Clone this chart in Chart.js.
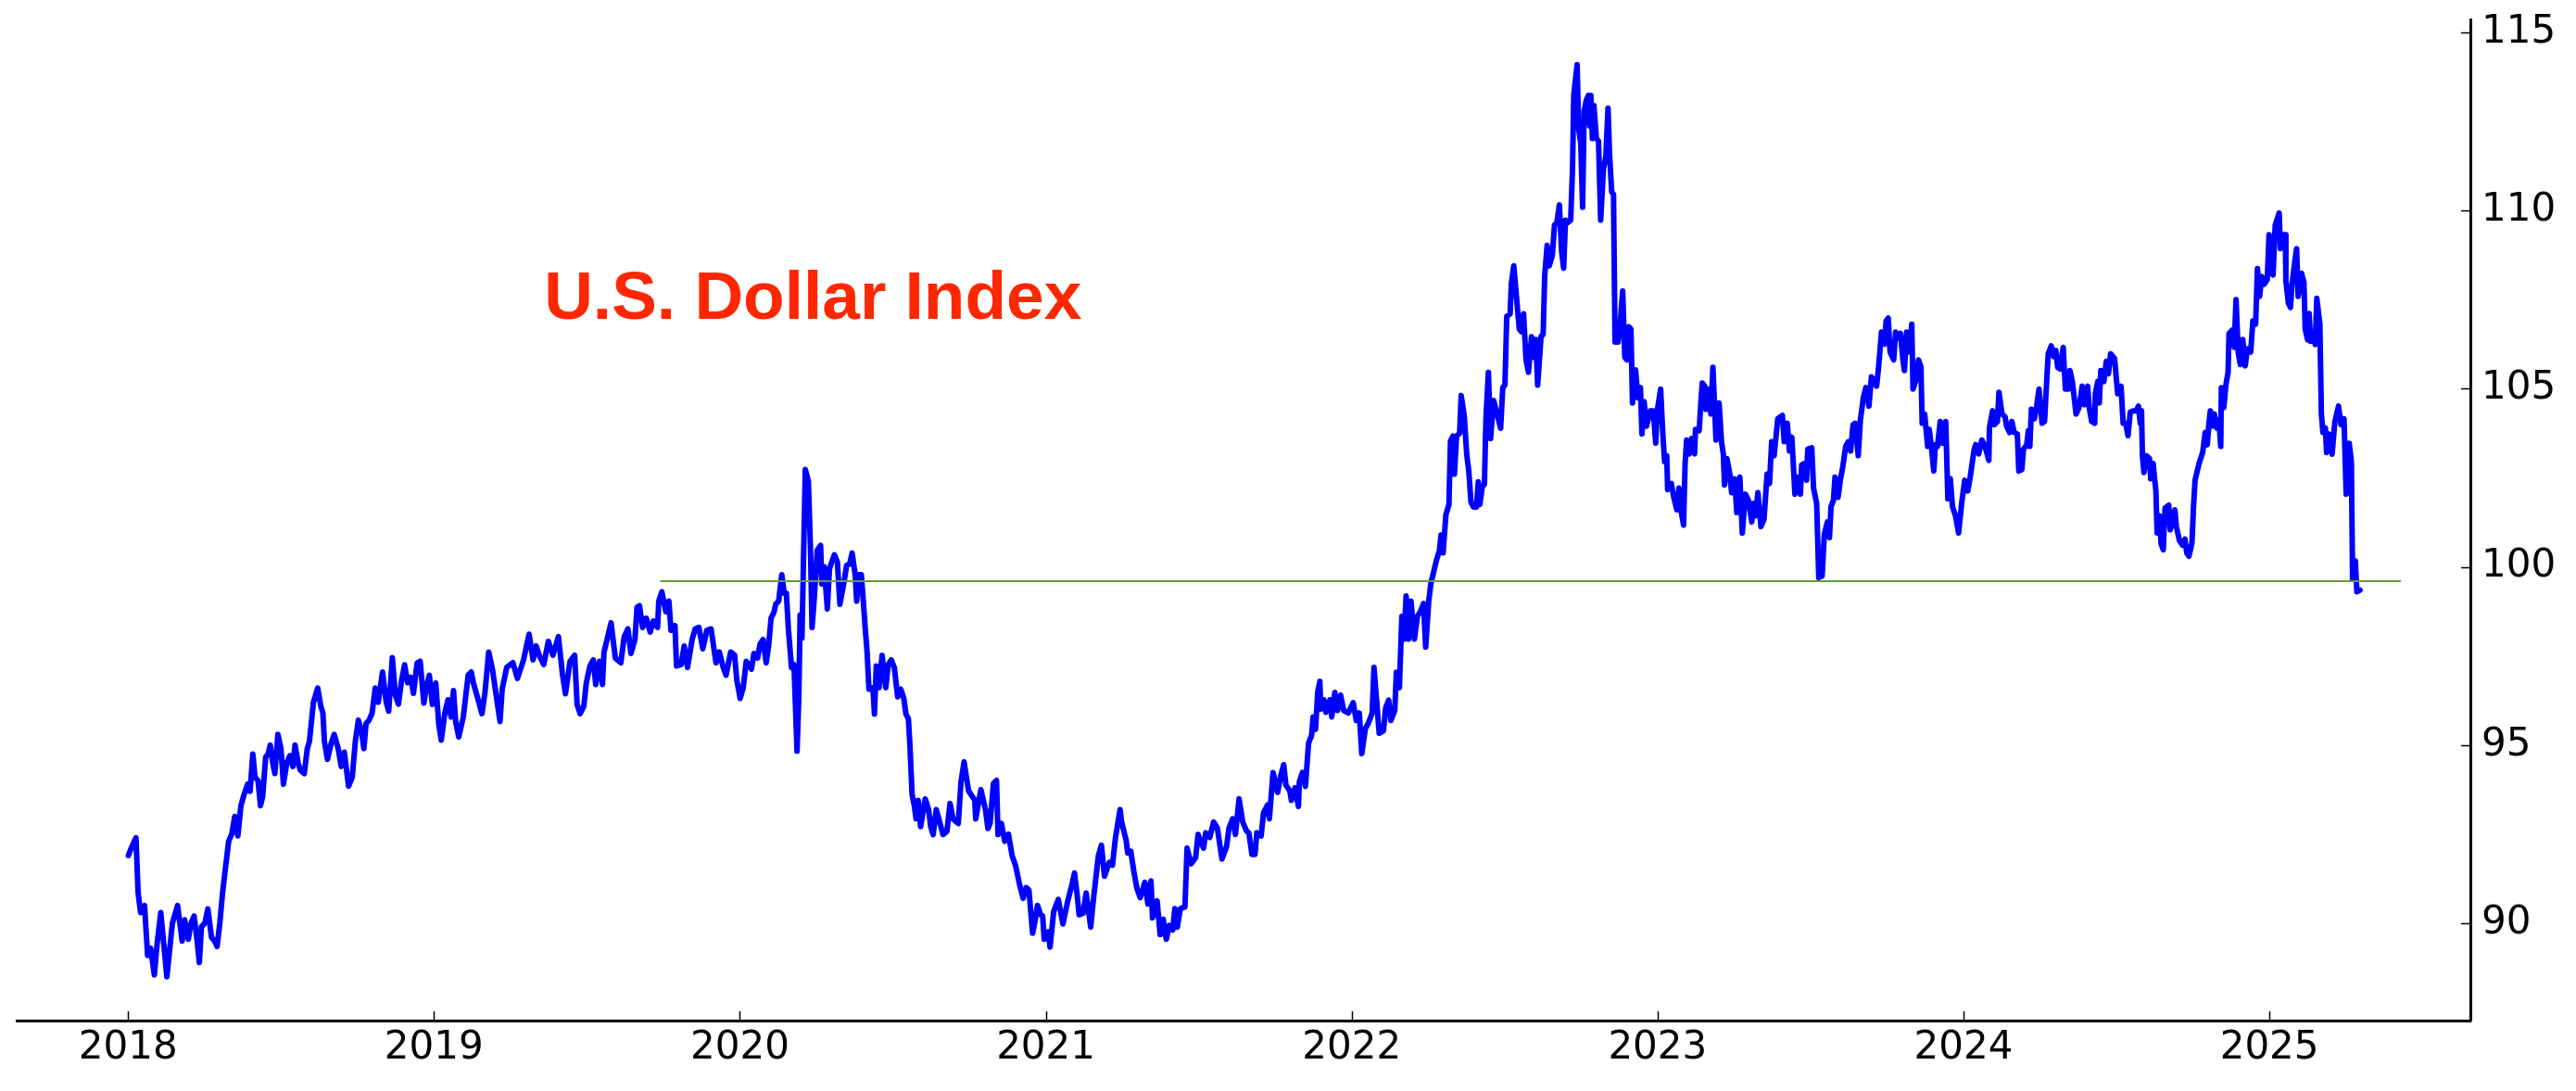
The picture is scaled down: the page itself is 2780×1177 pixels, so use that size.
<!DOCTYPE html>
<html>
<head>
<meta charset="utf-8">
<title>U.S. Dollar Index</title>
<script src="https://cdn.jsdelivr.net/npm/chart.js@4.4.1/dist/chart.umd.min.js"></script>
<style>
  html, body { margin: 0; padding: 0; background: #fff; }
  #wrap { width: 2780px; height: 1177px; }
</style>
</head>
<body>
<div id="wrap"><canvas id="chart" width="2780" height="1177"></canvas></div>
<script>
// DXY readings, [decimal year, index level]
const dxy2018 = [
  [2018.001, 91.9], [2018.010, 92.1], [2018.026, 92.4], [2018.033, 90.85], [2018.041, 90.3],
  [2018.054, 90.5], [2018.064, 89.1], [2018.074, 89.3], [2018.086, 88.55], [2018.096, 89.5],
  [2018.107, 90.3], [2018.127, 88.5], [2018.139, 89.5], [2018.145, 90.0], [2018.162, 90.5],
  [2018.177, 89.5], [2018.185, 90.1], [2018.197, 89.55], [2018.206, 90.0], [2018.216, 90.2],
  [2018.226, 89.5], [2018.233, 88.9], [2018.240, 89.9], [2018.251, 90.0], [2018.261, 90.4],
  [2018.273, 89.6], [2018.283, 89.5], [2018.291, 89.35], [2018.300, 90.0], [2018.309, 90.85],
  [2018.317, 91.45], [2018.329, 92.3], [2018.339, 92.5], [2018.349, 93.0], [2018.359, 92.45],
  [2018.369, 93.3], [2018.379, 93.6], [2018.391, 93.9], [2018.399, 93.7], [2018.408, 94.75],
  [2018.415, 94.1], [2018.425, 94.0], [2018.433, 93.3], [2018.440, 93.55], [2018.450, 94.66],
  [2018.458, 94.75], [2018.465, 95.0], [2018.473, 94.5], [2018.480, 94.2], [2018.490, 95.3],
  [2018.500, 94.9], [2018.508, 93.9], [2018.519, 94.5], [2018.529, 94.7], [2018.539, 94.4],
  [2018.546, 95.0], [2018.556, 94.5], [2018.563, 94.3], [2018.576, 94.2], [2018.586, 94.9],
  [2018.593, 95.1], [2018.606, 96.2], [2018.620, 96.6], [2018.630, 96.1], [2018.637, 95.9],
  [2018.642, 95.1], [2018.652, 94.6], [2018.664, 95.05], [2018.674, 95.3], [2018.687, 94.9],
  [2018.697, 94.4], [2018.707, 94.8], [2018.721, 93.85], [2018.733, 94.1], [2018.743, 95.1],
  [2018.753, 95.7], [2018.763, 95.4], [2018.771, 94.9], [2018.778, 95.6], [2018.788, 95.7],
  [2018.798, 95.9], [2018.808, 96.6], [2018.818, 96.2], [2018.832, 97.05], [2018.844, 96.2],
  [2018.852, 95.95], [2018.864, 97.45], [2018.874, 96.4], [2018.884, 96.15], [2018.894, 96.8],
  [2018.904, 97.25], [2018.914, 96.75], [2018.924, 96.9], [2018.933, 96.45], [2018.945, 97.3],
  [2018.955, 97.35], [2018.967, 96.18], [2018.977, 96.7], [2018.985, 96.96], [2018.995, 96.14]
];

const dxy2019 = [
  [2019.006, 96.74], [2019.016, 95.57], [2019.024, 95.14], [2019.036, 95.92], [2019.046, 96.27],
  [2019.056, 95.79], [2019.064, 96.53], [2019.071, 95.66], [2019.081, 95.23], [2019.096, 95.79],
  [2019.112, 96.96], [2019.122, 97.05], [2019.129, 96.74], [2019.142, 96.35], [2019.157, 95.88],
  [2019.167, 96.48], [2019.179, 97.61], [2019.192, 97.09], [2019.202, 96.48], [2019.216, 95.66],
  [2019.223, 96.57], [2019.238, 97.18], [2019.258, 97.31], [2019.273, 96.87], [2019.293, 97.39],
  [2019.311, 98.11], [2019.324, 97.39], [2019.334, 97.78], [2019.344, 97.52], [2019.359, 97.26],
  [2019.374, 97.91], [2019.389, 97.52], [2019.407, 98.04], [2019.420, 97.0], [2019.430, 96.44],
  [2019.445, 97.35], [2019.460, 97.52], [2019.468, 96.14], [2019.478, 95.88], [2019.490, 96.09],
  [2019.498, 96.74], [2019.510, 97.22], [2019.521, 97.39], [2019.529, 96.7], [2019.541, 97.35],
  [2019.551, 96.7], [2019.556, 97.61], [2019.566, 97.96], [2019.579, 98.43], [2019.593, 97.44],
  [2019.611, 97.31], [2019.622, 98.04], [2019.634, 98.26], [2019.644, 97.57], [2019.657, 97.96],
  [2019.664, 98.87], [2019.672, 98.91], [2019.682, 98.3], [2019.694, 98.56], [2019.707, 98.17],
  [2019.717, 98.48], [2019.731, 98.3], [2019.735, 99.04], [2019.745, 99.3], [2019.758, 98.74],
  [2019.768, 99.04], [2019.775, 98.22], [2019.788, 98.35], [2019.793, 97.22], [2019.808, 97.26],
  [2019.818, 97.78], [2019.829, 97.18], [2019.844, 97.96], [2019.854, 98.26], [2019.866, 98.3],
  [2019.879, 97.7], [2019.892, 98.22], [2019.906, 98.26], [2019.922, 97.31], [2019.933, 97.61],
  [2019.945, 97.2], [2019.955, 96.96], [2019.970, 97.61], [2019.983, 97.52], [2019.990, 96.83]
];

const dxy2020 = [
  [2020.001, 96.31], [2020.011, 96.61], [2020.021, 97.35], [2020.038, 97.13], [2020.046, 97.57],
  [2020.058, 97.44], [2020.066, 97.83], [2020.076, 97.96], [2020.086, 97.31], [2020.094, 97.78],
  [2020.102, 98.56], [2020.112, 98.74], [2020.117, 98.95], [2020.127, 99.04], [2020.137, 99.78],
  [2020.145, 99.26], [2020.152, 99.26], [2020.159, 98.22], [2020.169, 97.17], [2020.177, 97.26],
  [2020.187, 94.83], [2020.193, 96.4], [2020.197, 98.65], [2020.203, 98.0], [2020.214, 102.73],
  [2020.224, 102.4], [2020.231, 100.5], [2020.236, 98.3], [2020.243, 99.08], [2020.253, 100.47],
  [2020.264, 100.6], [2020.268, 99.52], [2020.276, 100.0], [2020.286, 98.82], [2020.293, 99.95],
  [2020.309, 100.34], [2020.319, 100.13], [2020.327, 98.95], [2020.341, 99.6], [2020.349, 100.04],
  [2020.359, 100.08], [2020.367, 100.39], [2020.377, 99.78], [2020.382, 99.04], [2020.389, 99.78],
  [2020.397, 99.78], [2020.404, 99.0], [2020.410, 98.26], [2020.416, 97.61], [2020.422, 96.57],
  [2020.435, 96.61], [2020.440, 95.87], [2020.446, 97.22], [2020.455, 96.61], [2020.465, 97.52],
  [2020.477, 96.61], [2020.485, 97.26], [2020.495, 97.39], [2020.505, 97.17], [2020.516, 96.35],
  [2020.526, 96.57], [2020.536, 96.31], [2020.543, 95.87], [2020.551, 95.74], [2020.556, 95.0],
  [2020.563, 93.62], [2020.571, 93.27], [2020.576, 92.93], [2020.583, 93.45], [2020.591, 92.71],
  [2020.606, 93.49], [2020.617, 93.19], [2020.624, 92.71], [2020.632, 92.49], [2020.642, 93.19],
  [2020.652, 92.88], [2020.664, 92.49], [2020.677, 92.58], [2020.687, 93.36], [2020.697, 92.93],
  [2020.714, 92.8], [2020.723, 93.97], [2020.733, 94.53], [2020.743, 93.97], [2020.748, 93.71],
  [2020.758, 93.58], [2020.768, 93.45], [2020.771, 92.93], [2020.788, 93.75], [2020.803, 93.19],
  [2020.811, 92.66], [2020.818, 92.8], [2020.829, 93.92], [2020.839, 94.01], [2020.844, 92.49],
  [2020.855, 92.8], [2020.866, 92.3], [2020.878, 92.5], [2020.890, 91.9], [2020.902, 91.6],
  [2020.914, 91.1], [2020.926, 90.7], [2020.936, 91.0], [2020.945, 90.93], [2020.957, 89.72],
  [2020.965, 90.07], [2020.973, 90.5], [2020.983, 90.24], [2020.990, 90.2], [2020.995, 89.55]
];

const dxy2021 = [
  [2021.008, 89.76], [2021.014, 89.33], [2021.026, 90.33], [2021.041, 90.67], [2021.056, 89.98],
  [2021.071, 90.59], [2021.086, 91.1], [2021.094, 91.41], [2021.102, 90.85], [2021.109, 90.24],
  [2021.122, 90.28], [2021.132, 90.85], [2021.147, 89.89], [2021.157, 90.76], [2021.172, 91.89],
  [2021.182, 92.19], [2021.192, 91.32], [2021.208, 91.71], [2021.218, 91.63], [2021.228, 92.41],
  [2021.243, 93.19], [2021.248, 92.84], [2021.263, 92.32], [2021.268, 91.97], [2021.278, 92.02],
  [2021.288, 91.45], [2021.298, 90.98], [2021.309, 90.72], [2021.324, 91.15], [2021.334, 90.54],
  [2021.344, 91.19], [2021.349, 90.15], [2021.364, 90.63], [2021.374, 89.68], [2021.384, 90.11],
  [2021.394, 89.55], [2021.404, 89.94], [2021.415, 89.81], [2021.422, 90.41], [2021.430, 89.89],
  [2021.440, 90.41], [2021.455, 90.46], [2021.462, 92.11], [2021.475, 91.67], [2021.490, 91.84],
  [2021.498, 92.49], [2021.505, 92.32], [2021.516, 92.11], [2021.523, 92.54], [2021.536, 92.41],
  [2021.549, 92.84], [2021.561, 92.67], [2021.576, 91.8], [2021.591, 92.15], [2021.599, 92.67],
  [2021.611, 92.93], [2021.620, 92.49], [2021.632, 93.49], [2021.644, 92.84], [2021.657, 92.58],
  [2021.664, 92.54], [2021.674, 91.93], [2021.684, 91.93], [2021.690, 92.54], [2021.704, 92.45],
  [2021.712, 93.1], [2021.725, 93.32], [2021.731, 92.93], [2021.743, 94.23], [2021.758, 93.67],
  [2021.768, 94.14], [2021.778, 94.45], [2021.785, 93.88], [2021.798, 93.71], [2021.803, 93.45],
  [2021.815, 93.8], [2021.826, 93.28], [2021.829, 93.97], [2021.839, 94.23], [2021.849, 93.84],
  [2021.859, 95.05], [2021.869, 95.27], [2021.874, 95.79], [2021.882, 95.44], [2021.889, 96.48],
  [2021.896, 96.79], [2021.899, 96.01], [2021.909, 96.27], [2021.916, 95.92], [2021.929, 96.27],
  [2021.935, 95.79], [2021.945, 96.48], [2021.954, 95.97], [2021.964, 96.4], [2021.974, 95.97],
  [2021.989, 95.9]
];

const dxy2022 = [
  [2022.005, 96.19], [2022.015, 95.69], [2022.025, 95.9], [2022.033, 94.76], [2022.045, 95.47],
  [2022.055, 95.62], [2022.067, 95.9], [2022.073, 97.18], [2022.090, 95.33], [2022.104, 95.4],
  [2022.111, 96.04], [2022.121, 96.26], [2022.128, 95.69], [2022.141, 95.97], [2022.146, 97.04],
  [2022.156, 96.61], [2022.164, 98.61], [2022.171, 97.97], [2022.178, 99.18], [2022.186, 97.97],
  [2022.194, 99.04], [2022.205, 97.97], [2022.215, 98.61], [2022.225, 98.75], [2022.235, 98.97],
  [2022.242, 97.75], [2022.252, 99.04], [2022.259, 99.54], [2022.265, 99.75], [2022.277, 100.18],
  [2022.287, 100.46], [2022.292, 100.89], [2022.299, 100.39], [2022.308, 101.46], [2022.318, 101.75],
  [2022.323, 103.53], [2022.331, 103.67], [2022.336, 102.6], [2022.343, 103.67], [2022.353, 103.75],
  [2022.358, 104.81], [2022.368, 104.24], [2022.376, 103.17], [2022.383, 102.67], [2022.390, 101.82],
  [2022.398, 101.68], [2022.408, 101.68], [2022.414, 102.39], [2022.419, 101.75], [2022.427, 102.25],
  [2022.434, 102.32], [2022.439, 104.17], [2022.447, 105.46], [2022.454, 103.6], [2022.464, 104.67],
  [2022.477, 104.24], [2022.487, 103.89], [2022.494, 105.03], [2022.501, 105.1], [2022.507, 107.03],
  [2022.518, 107.1], [2022.522, 107.95], [2022.530, 108.45], [2022.540, 107.45], [2022.548, 106.67],
  [2022.555, 106.6], [2022.562, 107.1], [2022.570, 105.81], [2022.578, 105.46], [2022.588, 106.46],
  [2022.595, 105.88], [2022.602, 106.38], [2022.608, 105.1], [2022.619, 106.46], [2022.626, 106.53],
  [2022.631, 108.17], [2022.639, 109.02], [2022.646, 108.45], [2022.656, 108.74], [2022.663, 109.59],
  [2022.671, 109.66], [2022.679, 110.16], [2022.686, 108.88], [2022.693, 108.38], [2022.699, 109.73],
  [2022.706, 109.66], [2022.716, 109.73], [2022.722, 111.16], [2022.726, 113.23], [2022.737, 114.09],
  [2022.742, 112.3], [2022.749, 111.87], [2022.755, 110.09], [2022.760, 112.8], [2022.767, 113.09],
  [2022.774, 113.23], [2022.778, 112.37], [2022.782, 113.23], [2022.787, 112.02], [2022.792, 112.94],
  [2022.800, 112.02], [2022.807, 111.95], [2022.814, 109.73], [2022.823, 111.16], [2022.831, 111.52],
  [2022.838, 112.87], [2022.843, 111.59], [2022.850, 110.52], [2022.856, 110.45], [2022.861, 106.31],
  [2022.871, 106.31], [2022.878, 106.88], [2022.886, 107.74], [2022.893, 105.88], [2022.900, 105.81],
  [2022.906, 106.74], [2022.913, 106.67], [2022.918, 104.6], [2022.928, 105.53], [2022.936, 104.74],
  [2022.944, 105.03], [2022.949, 103.73], [2022.956, 104.64], [2022.964, 103.95], [2022.976, 104.38],
  [2022.986, 104.38], [2022.994, 103.47], [2022.999, 104.38]
];

const dxy2023 = [
  [2023.010, 104.99], [2023.017, 103.77], [2023.023, 102.95], [2023.030, 103.12], [2023.033, 102.17],
  [2023.045, 102.34], [2023.053, 101.95], [2023.063, 101.6], [2023.070, 102.21], [2023.077, 101.56],
  [2023.085, 101.17], [2023.090, 102.9], [2023.095, 103.56], [2023.103, 103.17], [2023.111, 103.6],
  [2023.121, 103.17], [2023.124, 103.86], [2023.136, 103.82], [2023.141, 104.55], [2023.146, 105.16],
  [2023.154, 105.07], [2023.158, 104.42], [2023.164, 104.99], [2023.174, 104.29], [2023.181, 105.6],
  [2023.191, 103.56], [2023.201, 104.6], [2023.209, 103.51], [2023.215, 103.17], [2023.219, 102.3],
  [2023.227, 103.04], [2023.237, 102.56], [2023.242, 102.08], [2023.252, 102.47], [2023.259, 101.52],
  [2023.269, 102.52], [2023.277, 100.95], [2023.287, 102.04], [2023.297, 101.87], [2023.308, 101.26],
  [2023.313, 101.78], [2023.320, 101.43], [2023.328, 102.08], [2023.338, 101.13], [2023.348, 101.34],
  [2023.358, 102.6], [2023.366, 102.34], [2023.373, 103.51], [2023.381, 103.12], [2023.393, 104.16],
  [2023.408, 104.25], [2023.414, 103.51], [2023.424, 104.03], [2023.431, 103.25], [2023.439, 103.64],
  [2023.449, 102.04], [2023.459, 102.52], [2023.467, 102.04], [2023.471, 102.86], [2023.479, 102.9],
  [2023.487, 102.43], [2023.491, 103.3], [2023.504, 103.34], [2023.510, 102.21], [2023.520, 101.78],
  [2023.527, 99.7], [2023.538, 99.74], [2023.545, 100.91], [2023.555, 101.26], [2023.562, 100.82],
  [2023.567, 101.69], [2023.575, 101.87], [2023.580, 102.52], [2023.590, 101.95], [2023.598, 102.47],
  [2023.605, 102.78], [2023.615, 103.38], [2023.623, 103.51], [2023.631, 103.25], [2023.639, 103.99],
  [2023.646, 104.03], [2023.656, 103.12], [2023.663, 104.12], [2023.673, 104.77], [2023.681, 105.03],
  [2023.691, 104.51], [2023.699, 105.33], [2023.706, 105.25], [2023.716, 105.07], [2023.722, 105.55],
  [2023.732, 106.59], [2023.742, 106.25], [2023.747, 106.9], [2023.754, 106.98], [2023.760, 106.03],
  [2023.772, 105.81], [2023.778, 106.59], [2023.787, 106.42], [2023.794, 106.55], [2023.802, 105.81],
  [2023.807, 105.51], [2023.814, 106.59], [2023.822, 106.03], [2023.831, 106.81], [2023.835, 104.99],
  [2023.845, 105.25], [2023.853, 105.81], [2023.861, 105.6], [2023.865, 104.03], [2023.873, 104.29],
  [2023.883, 103.38], [2023.888, 103.86], [2023.895, 103.38], [2023.903, 102.69], [2023.908, 103.43],
  [2023.915, 103.38], [2023.924, 104.08], [2023.932, 103.47], [2023.942, 104.08], [2023.949, 101.91],
  [2023.957, 102.47], [2023.964, 101.69], [2023.974, 101.43], [2023.984, 100.95], [2023.994, 101.78]
];

const dxy2024 = [
  [2024.004, 102.43], [2024.014, 102.13], [2024.022, 102.52], [2024.035, 103.3], [2024.040, 103.43],
  [2024.050, 103.17], [2024.060, 103.56], [2024.070, 103.4], [2024.083, 102.99], [2024.085, 103.9],
  [2024.095, 104.38], [2024.101, 103.99], [2024.111, 104.08], [2024.116, 104.9], [2024.126, 104.29],
  [2024.136, 104.21], [2024.141, 103.95], [2024.151, 103.77], [2024.158, 104.08], [2024.166, 103.77],
  [2024.176, 103.73], [2024.181, 102.69], [2024.191, 102.73], [2024.196, 103.3], [2024.207, 103.43],
  [2024.212, 103.82], [2024.217, 103.38], [2024.222, 104.42], [2024.232, 104.16], [2024.239, 104.51],
  [2024.247, 104.99], [2024.257, 104.03], [2024.265, 104.08], [2024.272, 105.2], [2024.277, 105.98],
  [2024.287, 106.2], [2024.295, 105.9], [2024.302, 106.07], [2024.308, 105.6], [2024.316, 105.55],
  [2024.326, 106.16], [2024.333, 104.99], [2024.343, 104.99], [2024.348, 105.51], [2024.356, 105.2],
  [2024.368, 104.29], [2024.378, 104.47], [2024.388, 105.07], [2024.396, 104.55], [2024.406, 105.07],
  [2024.411, 104.47], [2024.419, 104.08], [2024.429, 104.03], [2024.431, 104.86], [2024.439, 105.2],
  [2024.444, 104.6], [2024.449, 105.51], [2024.459, 105.2], [2024.467, 105.77], [2024.474, 105.42],
  [2024.481, 105.98], [2024.494, 105.85], [2024.504, 104.86], [2024.515, 105.07], [2024.522, 104.03],
  [2024.530, 104.03], [2024.538, 103.68], [2024.545, 104.34], [2024.555, 104.38], [2024.565, 104.38],
  [2024.572, 104.51], [2024.578, 104.03], [2024.582, 104.38], [2024.585, 103.12], [2024.590, 102.65],
  [2024.598, 103.12], [2024.608, 103.04], [2024.612, 102.47], [2024.620, 102.9], [2024.629, 102.13],
  [2024.633, 100.95], [2024.641, 101.43], [2024.646, 100.65], [2024.653, 100.48], [2024.659, 101.65],
  [2024.671, 101.73], [2024.676, 101.04], [2024.691, 101.6], [2024.696, 101.13], [2024.706, 100.74],
  [2024.716, 100.61], [2024.724, 100.78], [2024.730, 100.39], [2024.737, 100.3], [2024.742, 100.48],
  [2024.747, 100.69], [2024.752, 101.69], [2024.757, 102.43], [2024.770, 102.9], [2024.782, 103.21],
  [2024.790, 103.77], [2024.797, 103.43], [2024.802, 103.99], [2024.807, 104.38], [2024.814, 103.95],
  [2024.820, 104.29], [2024.828, 103.9], [2024.835, 104.12], [2024.841, 103.38], [2024.843, 105.03],
  [2024.851, 104.47], [2024.858, 105.12], [2024.865, 105.46], [2024.868, 106.55], [2024.878, 106.64],
  [2024.885, 106.16], [2024.891, 107.5], [2024.898, 106.03], [2024.905, 105.68], [2024.913, 106.38],
  [2024.921, 105.64], [2024.928, 106.12], [2024.939, 106.03], [2024.946, 106.9], [2024.955, 106.81],
  [2024.961, 108.37], [2024.968, 107.59], [2024.975, 108.15], [2024.983, 107.93], [2024.993, 108.06],
  [2024.999, 109.32]
];

const dxy2025 = [
  [2025.006, 108.24], [2025.012, 108.19], [2025.019, 109.58], [2025.032, 109.93], [2025.036, 108.93],
  [2025.044, 109.32], [2025.052, 109.32], [2025.054, 108.02], [2025.062, 107.41], [2025.069, 107.28],
  [2025.074, 107.93], [2025.084, 108.63], [2025.089, 108.93], [2025.094, 107.59], [2025.105, 108.24],
  [2025.113, 107.98], [2025.117, 106.68], [2025.125, 106.37], [2025.130, 107.11], [2025.135, 106.33],
  [2025.145, 106.5], [2025.150, 106.24], [2025.155, 107.54], [2025.165, 106.81], [2025.170, 104.29],
  [2025.175, 103.77], [2025.183, 103.9], [2025.187, 103.21], [2025.195, 103.73], [2025.205, 103.16],
  [2025.214, 104.07], [2025.226, 104.51], [2025.234, 103.99], [2025.244, 104.16], [2025.251, 102.04],
  [2025.261, 103.47], [2025.268, 102.95], [2025.272, 99.65], [2025.281, 100.17], [2025.286, 99.3],
  [2025.296, 99.35]
];

// green reference level and where it runs
const refLevel = 99.6;
const refSpan = [2019.74, 2025.43];

const xTicks = [2018, 2019, 2020, 2021, 2022, 2023, 2024, 2025];
const yTicks = [90, 95, 100, 105, 110, 115];

const titleText = "U.S. Dollar Index";
const titleAt = [2019.36, 106.97];

const series = [...dxy2018, ...dxy2019, ...dxy2020, ...dxy2021,
                ...dxy2022, ...dxy2023, ...dxy2024, ...dxy2025]
  .map(p => ({ x: p[0], y: p[1] }));

// inward tick marks + the red title inside the plot
const decor = {
  id: "decor",
  afterDraw(chart) {
    const { ctx, chartArea, scales } = chart;
    const xs = scales.x, ys = scales.y;
    ctx.save();
    ctx.strokeStyle = "#000";
    ctx.lineWidth = 1.5;
    ctx.beginPath();
    xs.ticks.forEach(t => {
      const px = Math.round(xs.getPixelForValue(t.value)) + 0.5;
      ctx.moveTo(px, chartArea.bottom);
      ctx.lineTo(px, chartArea.bottom - 10);
    });
    ys.ticks.forEach(t => {
      const py = Math.round(ys.getPixelForValue(t.value)) + 0.5;
      ctx.moveTo(chartArea.right, py);
      ctx.lineTo(chartArea.right - 10, py);
    });
    ctx.stroke();

    ctx.fillStyle = "#ff2600";
    ctx.font = 'bold 73px "Liberation Sans", Arial, sans-serif';
    ctx.textAlign = "left";
    ctx.textBaseline = "alphabetic";
    ctx.fillText(titleText, xs.getPixelForValue(titleAt[0]), ys.getPixelForValue(titleAt[1]));
    ctx.restore();
  }
};

const tickFont = { family: "DejaVu Sans", size: 42 };

new Chart(document.getElementById("chart"), {
  type: "line",
  data: {
    datasets: [
      {
        label: "level",
        data: refSpan.map(x => ({ x: x, y: refLevel })),
        borderColor: "#6a9a3a",
        borderWidth: 2,
        pointRadius: 0,
        tension: 0
      },
      {
        label: "DXY",
        data: series,
        borderColor: "#0000ff",
        borderWidth: 6,
        pointRadius: 0,
        tension: 0,
        borderJoinStyle: "round",
        borderCapStyle: "round"
      }
    ]
  },
  options: {
    responsive: false,
    animation: false,
    devicePixelRatio: 1,
    layout: { padding: { left: 18, top: 21, right: 0, bottom: 0 } },
    plugins: {
      legend: { display: false },
      tooltip: { enabled: false },
      title: { display: false }
    },
    scales: {
      x: {
        type: "linear",
        min: 2017.636,
        max: 2025.657,
        grid: { display: false, drawTicks: false },
        border: { display: true, color: "#000", width: 3 },
        afterBuildTicks: s => { s.ticks = xTicks.map(v => ({ value: v })); },
        afterFit: s => {
          s.height = 76;
          s.paddingLeft = 0;
          s.paddingRight = 0;
        },
        ticks: {
          color: "#000",
          font: tickFont,
          padding: 5,
          maxRotation: 0,
          autoSkip: false,
          callback: v => String(v)
        }
      },
      y: {
        position: "right",
        min: 87.27,
        max: 115.36,
        grid: { display: false, drawTicks: false },
        border: { display: true, color: "#000", width: 3 },
        afterBuildTicks: s => { s.ticks = yTicks.map(v => ({ value: v })); },
        afterFit: s => {
          s.width = 114;
          s.paddingTop = 0;
          s.paddingBottom = 0;
        },
        ticks: {
          color: "#000",
          font: tickFont,
          padding: 12,
          callback: v => String(v)
        }
      }
    }
  },
  plugins: [decor]
});
</script>
</body>
</html>
